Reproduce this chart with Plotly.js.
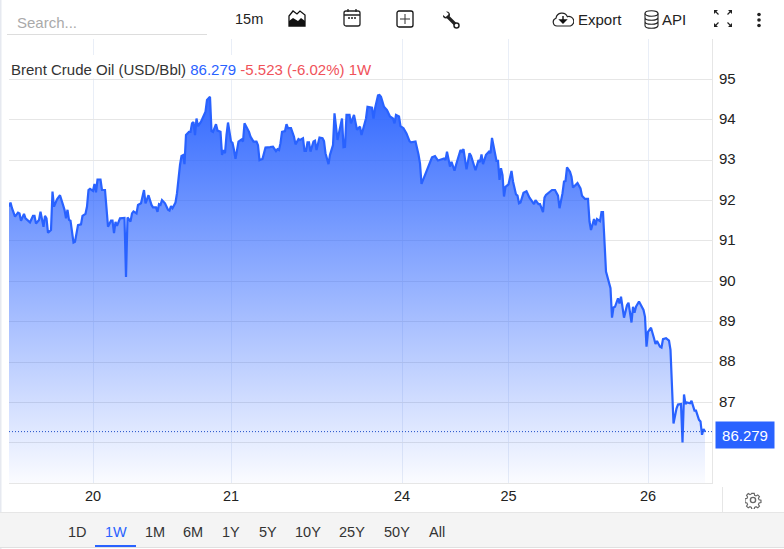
<!DOCTYPE html>
<html>
<head>
<meta charset="utf-8">
<script src="https://cdn.plot.ly/plotly-3.0.1.min.js"></script>
<style>
html, body { margin: 0; padding: 0; background: #fff; }
</style>
</head>
<body>
<div id="chart"></div>
<script>
// 15 minute bar number of each point
var bars = [0,1,2,4,6,7,8,10,11,14,16,17,18,20,21,23,24,25,26,28,29,30,32,34,36,37,38,39,40,41,43,44,46,48,49,51,52,53,54,56,57,58,59,61,62,64,65,66,68,69,70,71,72,74,77,78,79,81,82,83,85,86,88,90,91,93,95,96,98,99,100,101,102,104,106,107,108,109,111,112,114,115,116,117,118,120,121,122,123,124,125,126,128,130,131,132,134,135,136,138,139,141,142,143,144,145,146,148,149,150,151,153,155,156,157,160,161,163,165,166,167,
  169,171,174,176,178,179,180,181,182,184,185,186,188,190,191,193,194,196,197,198,199,200,201,203,204,205,207,209,210,211,213,214,216,217,219,222,223,224,225,227,228,230,232,234,235,237,238,239,242,243,244,246,247,248,250,252,254,256,257,258,260,261,263,265,267,268,271,273,274,275,277,278,281,
  282,284,286,290,291,292,294,295,297,298,301,302,303,305,307,308,311,313,314,315,316,318,320,321,322,325,326,327,328,329,330,331,333,335,336,338,339,340,341,343,345,347,350,351,353,354,356,357,358,362,364,366,367,369,370,371,372,374,375,376,379,381,382,384,386,387,388,390,391,392,394,395,396,397,398,401,402,403,404,406,407,408,410,412,413,
  415,416,417,418,420,423,424,425,426,428,430,431,432,434,435,436,438,440,441,442,443,445,446,448,449,450,451,452,454,455,457,458,460,461,462,463,464];
var prices = [91.85,91.95,91.81,91.60,91.70,91.68,91.50,91.67,91.56,91.46,91.62,91.62,91.43,91.52,91.72,91.35,91.62,91.56,91.20,91.27,92.22,91.85,92.03,92.13,91.89,91.77,91.56,91.77,91.52,91.50,90.96,90.98,91.39,91.41,91.62,91.67,91.85,92.26,92.29,92.24,92.41,92.20,92.52,92.52,92.26,92.26,91.81,91.35,91.50,91.50,91.19,91.47,91.37,91.56,91.57,90.11,91.58,91.48,91.68,91.73,91.68,91.89,91.93,92.26,91.93,92.13,91.89,91.83,91.83,91.72,91.91,91.89,92.01,91.93,91.77,91.75,91.86,91.81,91.95,92.18,92.88,93.10,93.12,92.90,93.62,93.70,93.70,93.91,93.94,93.62,94.03,93.84,93.95,94.14,94.20,94.49,94.57,93.72,93.70,93.89,93.73,93.70,93.13,93.25,93.17,93.62,93.93,93.46,93.43,93.25,93.03,93.46,93.51,93.46,93.91,93.70,93.58,93.46,93.46,93.37,93.00,
  93.03,93.31,93.32,93.33,93.22,93.27,93.25,93.42,93.70,93.72,93.89,93.79,93.79,93.58,93.39,93.52,93.50,93.54,93.23,93.23,93.44,93.44,93.21,93.46,93.48,93.25,93.56,93.54,93.47,93.17,92.90,93.13,93.37,94.16,93.50,94.03,93.32,93.33,94.12,94.12,93.91,94.12,93.75,93.83,93.62,93.87,94.03,94.32,94.30,94.03,94.28,94.60,94.61,94.57,94.32,94.24,94.08,94.03,93.91,94.12,94.08,93.84,93.79,93.66,93.47,93.44,93.46,93.14,92.92,92.41,92.59,92.67,92.98,
  93.07,93.10,92.99,93.04,93.00,93.21,92.84,92.96,92.74,92.88,93.25,93.21,93.27,92.77,93.17,93.11,92.75,93.00,92.95,93.14,92.90,93.13,93.21,93.17,93.55,92.98,92.98,92.51,92.80,92.63,92.10,92.34,92.40,92.73,92.47,92.15,92.12,91.93,91.95,92.19,92.23,92.07,91.91,92.01,91.91,91.91,91.71,92.07,92.14,92.26,92.26,92.12,91.81,92.18,92.47,92.48,92.82,92.71,92.59,92.32,92.43,92.30,92.12,92.04,92.04,91.48,91.27,91.54,91.39,91.54,91.49,91.71,91.71,90.98,90.24,89.83,89.10,89.35,89.37,89.58,89.45,89.62,89.10,89.41,89.47,
  88.98,89.37,89.22,89.37,89.50,89.29,89.12,88.38,88.75,88.85,88.59,88.45,88.52,88.38,88.36,88.57,88.59,88.53,88.30,87.14,86.48,86.85,86.95,86.96,86.01,87.20,86.96,87.00,86.98,87.04,86.80,86.80,86.57,86.53,86.20,86.34,86.279];

var dayTicks = [56, 148, 262, 333, 426];
var dayLabels = ['20', '21', '24', '25', '26'];
var priceTicks = [86, 87, 88, 89, 90, 91, 92, 93, 94, 95];
var priceLabels = ['', '87', '88', '89', '90', '91', '92', '93', '94', '95'];
var rangeButtons = ['1D', '1W', '1M', '6M', '1Y', '5Y', '10Y', '25Y', '50Y', 'All'];
var rangeCenters = [77, 116, 155, 193, 231, 268, 308, 352, 397, 437];

var last = prices[prices.length - 1];
var floorPrice = 85.0;
var blue = '#2962ff';
var red = '#f0525a';
var font = 'Liberation Sans, Arial, sans-serif';

// plot area in page pixels
var L = 9, R = 712, T = 39, B = 483;
function px(x) { return (x - L) / (R - L); }
function py(y) { return (B - y) / (B - T); }

function label(text, x, y, color, size, anchor) {
  return {
    text: text, xref: 'paper', yref: 'paper', x: px(x), y: py(y),
    xanchor: anchor || 'left', yanchor: 'middle', showarrow: false,
    font: {family: font, size: size || 15, color: color || '#333'}
  };
}
function box(x0, y0, x1, y1, color) {
  return {type: 'rect', xref: 'paper', yref: 'paper', x0: px(x0), x1: px(x1), y0: py(y0), y1: py(y1),
    fillcolor: color, line: {width: 0}, layer: 'above'};
}
function icon(svg, x, y, w, h) {
  return {
    source: 'data:image/svg+xml;utf8,' + encodeURIComponent('<svg xmlns="http://www.w3.org/2000/svg" width="' + w + '" height="' + h + '" viewBox="0 0 ' + w + ' ' + h + '">' + svg + '</svg>'),
    xref: 'paper', yref: 'paper', x: px(x), y: py(y), sizex: w / (R - L), sizey: h / (B - T),
    xanchor: 'left', yanchor: 'top', layer: 'above', sizing: 'stretch'
  };
}

var baseline = {
  x: bars, y: bars.map(function () { return floorPrice; }),
  mode: 'lines', line: {width: 0}, hoverinfo: 'skip', showlegend: false
};
var trace = {
  x: bars, y: prices, mode: 'lines', name: 'Brent Crude Oil',
  line: {color: blue, width: 2.2}, fill: 'tonexty', fillcolor: 'rgba(41,98,255,0.5)',
  fillgradient: {
    type: 'vertical', start: 85, stop: 94.6,
    colorscale: [[0, 'rgba(41,98,255,0.02)'], [1, 'rgba(41,98,255,0.95)']]
  },
  showlegend: false
};

var notes = [
  label('Search...', 15, 22, '#aaa', 15),
  label('15m', 233, 19, '#222', 14.5),
  label('Export', 576, 19, '#222'),
  label('API', 660, 19, '#222'),
  label('<span style="color:#333">Brent Crude Oil (USD/Bbl)</span> <span style="color:' + blue + '">86.279</span> <span style="color:' + red + '">-5.523 (-6.02%) 1W</span>', 9, 70, '#333'),
  {
    text: last.toFixed(3), xref: 'paper', yref: 'y', x: px(744.5), y: last, yshift: -3,
    xanchor: 'center', yanchor: 'middle', showarrow: false, width: 56, height: 24,
    bgcolor: blue, font: {family: font, size: 15, color: '#fff'}
  }
];
rangeButtons.forEach(function (b, i) {
  notes.push(label(b, rangeCenters[i], 532, b === '1W' ? blue : '#333', 14.5, 'center'));
});

var shapes = [
  box(0, 0, 1.5, 549, '#e6e9f0'),
  box(7, 34, 207, 35, '#dddddd'),
  box(9, 55, 377, 78.5, '#ffffff'),
  box(0, 512, 784, 513, '#e6e6e6'),
  box(0, 513, 784, 547, '#f4f4f4'),
  box(0, 547, 784, 548, '#e0e0e0'),
  box(95, 545, 136, 547, blue),
  box(722, 487, 723, 512, '#e6e6e6'),
  {
    type: 'line', xref: 'paper', yref: 'y', x0: 0, x1: 1, y0: last, y1: last,
    line: {color: '#1f4fc8', width: 1, dash: '1px,2px'}, layer: 'above'
  }
];

var images = [
  icon('<path d="M1 17V7l4-5 4 3 3-3 5 4v11z" fill="#fff" stroke="#111" stroke-width="1.3"/><path d="M1 17v-5l4-3 5 3 3-3 4 3v5z" fill="#111"/>', 288, 9, 18, 18),
  icon('<rect x="1" y="3" width="16" height="15" rx="2" fill="none" stroke="#222" stroke-width="1.3"/><path d="M1 7h16M5 1v3M13 1v3" stroke="#222" stroke-width="1.3"/><path d="M5 10h2M8 10h2M11 10h2" stroke="#222" stroke-width="1.3"/>', 343, 8, 18, 19),
  icon('<rect x="1" y="1" width="16" height="16" rx="2" fill="none" stroke="#111" stroke-width="1.3"/><path d="M9 4v10M4 9h10" stroke="#333" stroke-width="1"/>', 396, 10, 18, 18),
  icon('<path d="M5 5l8.500 8.500" stroke="#222" stroke-width="3.200" fill="none"/><path d="M1 4l2.500 2 2.500-1 .5-2.500L4 0.500C6.500 0 8.500 2 8 4.500L6 7C3 8 .5 7 1 4z" fill="#222"/><circle cx="14.500" cy="14.500" r="2.500" fill="#fff" stroke="#222" stroke-width="1.500"/>', 442, 11, 18, 18),
  icon('<path d="M6 15H5a4 4 0 0 1-1-7.8 6 6 0 0 1 11.4-1.5 4.6 4.6 0 0 1 3 9.3H6z" fill="none" stroke="#222" stroke-width="1.2" transform="translate(0,1)"/><path d="M11 6v5M8 10h6l-3 3z" fill="#111" stroke="#111" stroke-width="1.4"/>', 552, 10, 22, 18),
  icon('<ellipse cx="7.5" cy="3.5" rx="6.5" ry="2.7" fill="none" stroke="#222" stroke-width="1.1"/><path d="M1 3.5v12c0 1.6 3 2.8 6.5 2.8s6.5-1.2 6.5-2.8v-12M1 7.5c0 1.6 3 2.8 6.5 2.8S14 9.100 14 7.500M1 11.500c0 1.600 3 2.800 6.500 2.800S14 13.100 14 11.500" fill="none" stroke="#222" stroke-width="1.1"/>', 644, 10, 15, 19),
  icon('<path d="M1 1h4L1 5zM19 1h-4l4 4zM1 18v-4l4 4zM19 18v-4l-4 4z" fill="#222"/><path d="M2 2l3.500 3.500M18 2l-3.500 3.500M2 17l3.500-3.500M18 17l-3.500-3.500" stroke="#222" stroke-width="1.200"/>', 713, 9, 20, 19),
  icon('<circle cx="3" cy="2.500" r="1.800" fill="#222"/><circle cx="3" cy="8" r="1.800" fill="#222"/><circle cx="3" cy="13.500" r="1.800" fill="#222"/>', 756, 12, 6, 16),
  icon('<circle cx="8" cy="8" r="2.600" fill="none" stroke="#666" stroke-width="1.400"/><path d="M6.700 1h2.600l.4 2 1.500.7 1.800-1.100 1.800 1.800-1.100 1.800.7 1.500 2 .4v2.600l-2 .4-.7 1.500 1.100 1.800-1.800 1.800-1.800-1.100-1.500.7-.4 2H6.700l-.4-2-1.500-.7-1.800 1.100-1.800-1.800 1.100-1.800-.7-1.500-2-.4V6.700l2-.4.7-1.500-1.100-1.800 1.800-1.800 1.800 1.100 1.500-.7z" fill="none" stroke="#666" stroke-width="1.200" transform="translate(.4,.400) scale(.95)"/>', 745, 492, 17, 17)
];

var layout = {
  width: 784, height: 549,
  margin: {l: L, r: 784 - R, t: T, b: 549 - B, pad: 0},
  paper_bgcolor: '#fff', plot_bgcolor: '#fff',
  showlegend: false,
  font: {family: font, size: 14, color: '#222'},
  xaxis: {
    range: [0, 468.67], tickmode: 'array', tickvals: dayTicks, ticktext: dayLabels,
    showgrid: true, gridcolor: '#e9eef7', gridwidth: 1, zeroline: false,
    showline: true, linecolor: '#e6e6e6', linewidth: 1, ticks: '', fixedrange: true,
    tickfont: {family: font, size: 14.5, color: '#222'}
  },
  yaxis: {
    side: 'right', range: [85.007, 95.998], tickmode: 'array', tickvals: priceTicks, ticktext: priceLabels,
    showgrid: true, gridcolor: '#e6e6e6', gridwidth: 1, zeroline: false,
    showline: true, linecolor: '#e6e6e6', linewidth: 1, ticks: 'outside', ticklen: 3, tickcolor: '#fff', fixedrange: true,
    ticklabelshift: -1,
    tickfont: {family: font, size: 15, color: '#222'}
  },
  annotations: notes,
  shapes: shapes,
  images: images
};

Plotly.newPlot('chart', [baseline, trace], layout, {displayModeBar: false, staticPlot: true});
</script>
</body>
</html>
